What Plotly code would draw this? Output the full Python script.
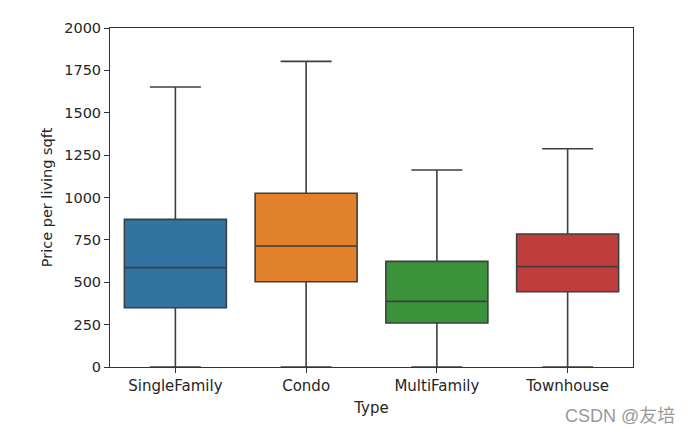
import plotly.graph_objects as go

categories = ["SingleFamily", "Condo", "MultiFamily", "Townhouse"]
q1 = [350, 503, 260, 444]
median = [586, 714, 387, 592]
q3 = [871, 1025, 623, 785]
lower = [0, 0, 0, 0]
upper = [1652, 1803, 1162, 1288]
colors = ["#3274a1", "#e1812c", "#3a923a", "#c03d3e"]
y_ticks = [0, 250, 500, 750, 1000, 1250, 1500, 1750, 2000]

fig = go.Figure()
for i, c in enumerate(categories):
    fig.add_trace(go.Box(
        x=[c], q1=[q1[i]], median=[median[i]], q3=[q3[i]],
        lowerfence=[lower[i]], upperfence=[upper[i]],
        fillcolor=colors[i], line=dict(color="#3f3f3f", width=1.6),
        width=0.78, whiskerwidth=0.5, showlegend=False, boxpoints=False,
        hoverinfo="y",
    ))

font = dict(family="DejaVu Sans", size=15, color="#262626")
fig.update_layout(
    width=692, height=434,
    margin=dict(l=102, r=67, t=20, b=75),
    paper_bgcolor="white", plot_bgcolor="white",
    font=font,
    xaxis=dict(
        type="category", categoryorder="array", categoryarray=categories,
        range=[-0.5, 3.5], showline=True, linecolor="#333333", linewidth=1,
        mirror=True, ticks="outside", ticklen=5, tickcolor="#333333",
        showgrid=False, zeroline=False,
        title=dict(text="Type", standoff=8, font=font),
    ),
    yaxis=dict(
        range=[0, 2000], tickvals=y_ticks, showline=True, linecolor="#333333",
        linewidth=1, mirror=True, ticks="outside", ticklen=5, tickcolor="#333333",
        showgrid=False, zeroline=False, tickfont=dict(size=14.5),
        title=dict(text="Price per living sqft", standoff=8, font=dict(size=14.5)),
    ),
    annotations=[dict(
        text="CSDN @友培", xref="paper", yref="paper", x=1.084, y=-0.145,
        xanchor="right", yanchor="middle", showarrow=False,
        font=dict(family="Liberation Sans, Noto Sans CJK SC", size=18, color="#9a9a9a"),
    )],
)

fig.write_html("out.html")
